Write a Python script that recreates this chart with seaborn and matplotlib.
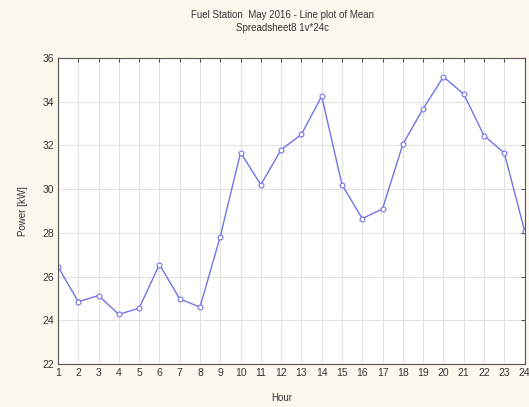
import pandas as pd
import numpy as np
import matplotlib
matplotlib.use("Agg")
import matplotlib.pyplot as plt
import seaborn as sns

# valores
hours = list(range(1, 25))
power = [26.45, 24.85, 25.13, 24.27, 24.55, 26.55, 24.98, 24.6, 27.83, 31.67,
         30.2, 31.8, 32.5, 34.25, 30.2, 28.65, 29.1, 32.05, 33.68, 35.13,
         34.35, 32.45, 31.65, 28.1]
yticks = [22, 24, 26, 28, 30, 32, 34, 36]

df = pd.DataFrame({"Hour": hours, "Power": power})

sns.set_style("white")
plt.rcParams['font.family'] = ['Liberation Sans', 'DejaVu Sans']

fig = plt.figure(figsize=(5.29, 4.07), dpi=100, facecolor="#fcf8ee")
ax = fig.add_axes([0.1096, 0.1057, 0.882, 0.752])
ax.set_facecolor("white")

sns.lineplot(data=df, x="Hour", y="Power", ax=ax, color="#7474e6", linewidth=1.0,
             marker="o", markersize=3.5, markerfacecolor="white",
             markeredgecolor="#7474e6", markeredgewidth=0.8)

ax.set_xlim(1, 24)
ax.set_ylim(22, 36)
ax.set_xticks(hours)
ax.set_yticks(yticks)
ax.grid(True, color="#e2e2e2", linewidth=0.8)
ax.set_axisbelow(True)
ax.tick_params(direction="in", length=3, labelsize=7.5, top=True, right=True,
               color="#555555", labelcolor="#333333", pad=3)
for s in ax.spines.values():
    s.set_color("#555555")
    s.set_linewidth(0.8)

ax.set_xlabel("Hour", fontsize=7, color="#333333", labelpad=12)
ax.xaxis.set_label_coords(0.48, -0.095)
ax.set_ylabel("Power [kW]", fontsize=7, color="#333333", labelpad=10)
fig.text(0.534, 0.962, "Fuel Station  May 2016 - Line plot of Mean", ha="center",
         va="center", fontsize=7, color="#333333")
fig.text(0.534, 0.93, "Spreadsheet8 1v*24c", ha="center", va="center",
         fontsize=7, color="#333333")

plt.savefig("out.png", dpi=100, facecolor=fig.get_facecolor())
